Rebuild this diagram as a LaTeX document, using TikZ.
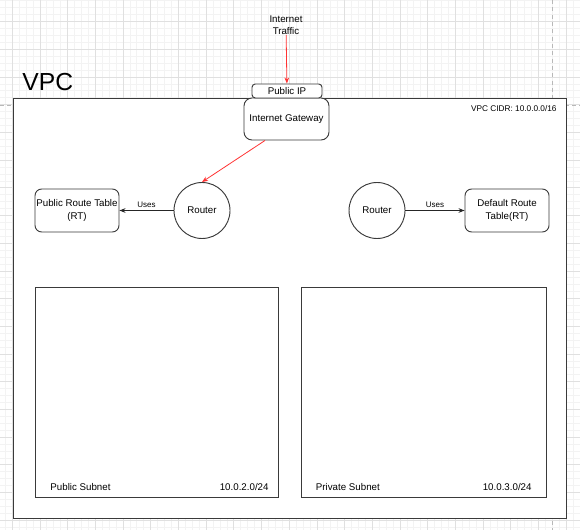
\documentclass[tikz,border=0pt]{standalone}
\usepackage{fontspec}
\setmainfont{Liberation Sans}
\usetikzlibrary{arrows.meta, calc, positioning}

\definecolor{gridmajor}{HTML}{E0E0E0}
\definecolor{gridminor}{HTML}{F3F3F3}
\definecolor{edgegray}{HTML}{3A3A3A}
\definecolor{trafficred}{HTML}{FF3333}

\begin{document}
\begin{tikzpicture}[x=0.75pt, y=-0.75pt, line width=0.7pt,
    txt/.style={font=\fontsize{7.3}{9.2}\selectfont, inner sep=0pt, align=center},
    smalltxt/.style={font=\fontsize{6}{7}\selectfont, inner sep=1pt},
    rtbox/.style={draw=edgegray, fill=white, rounded corners=5pt, minimum width=63pt, minimum height=32.25pt, txt},
    router/.style={circle, draw=edgegray, fill=white, minimum size=42pt, txt},
    subnet/.style={draw=edgegray, fill=white},
    uses/.style={draw=black!85, -{Stealth[length=4.5pt, width=3.5pt]}},
    redflow/.style={draw=trafficred, line width=0.6pt, -{Stealth[length=4.5pt, width=3.5pt]}},
    dashline/.style={draw=black!28, line width=0.6pt, dash pattern=on 3pt off 2.5pt},
  ]
        \useasboundingbox (0,0) rectangle (580,530);
        \fill[white] (0,0) rectangle (580,530);

        % --- BACKGROUND: THE GRID ---
        \foreach \i in {-2,...,83} {
            \draw[gridminor] ({12.3+6.925*\i},0) -- ({12.3+6.925*\i},530);
        }
        \foreach \j in {-3,...,73} {
            \draw[gridminor] (0,{21.7+6.925*\j}) -- (580,{21.7+6.925*\j});
        }
        \foreach \i in {0,...,20} {
            \draw[gridmajor] ({12.3+27.7*\i},0) -- ({12.3+27.7*\i},530);
        }
        \foreach \j in {0,...,18} {
            \draw[gridmajor] (0,{21.7+27.7*\j}) -- (580,{21.7+27.7*\j});
        }

        % page border
        \draw[dashline] (552.7,0) -- (552.7,530);
        \draw[dashline] (0,105) -- (580,105);

        % --- THE VPC ---
        \draw[edgegray, fill=white] (13.3,98.3) rectangle (566.7,518.3);
        \node[font=\fontsize{18.5}{20}\selectfont, anchor=base west, inner sep=0pt] (vpclabel) at (22,91) {VPC};
        \node[font=\fontsize{6.2}{7}\selectfont, anchor=east, inner sep=0pt] (vpccidr) at (557,109) {VPC CIDR: 10.0.0.0/16};

        % Gateway and its public address
        \node[draw=edgegray, fill=white, rounded corners=6pt, minimum width=63.75pt, minimum height=31.5pt, txt] (igw) at (286.5,119) {Internet Gateway};
        \node[draw=edgegray, fill=white, rounded corners=2.5pt, minimum width=52.5pt, minimum height=10.5pt, txt] (pubip) at (287,91) {Public IP};

        \node[txt] (traffic) at (286,25) {Internet\\Traffic};
        \draw[redflow] (traffic) -- (pubip);

        % --- ROUTERS AND ROUTE TABLES ---
        \node[router] (rtrpub) at (202,210.5) {Router};
        \node[router] (rtrpriv) at (377,210.5) {Router};

        \node[rtbox] (pubrt) at (77,210.5) {Public Route Table\\(RT)};
        \node[rtbox] (defrt) at (507,210.5) {Default Route\\Table(RT)};

        \draw[uses] (rtrpub) -- node[above=1pt, smalltxt] {Uses} (pubrt);
        \draw[uses] (rtrpriv) -- node[above=1pt, smalltxt] {Uses} (defrt);

        \draw[redflow] ($(igw.south west)!0.25!(igw.south east)$) -- (rtrpub.north);

        % --- SUBNETS ---
        \draw[subnet] (35,287) rectangle (278.5,497);
        \draw[subnet] (301,287) rectangle (546,497);

        \node[txt, anchor=west] (pubsubname) at (50,487) {Public Subnet};
        \node[txt, anchor=east] (pubsubcidr) at (269,487) {10.0.2.0/24};
        \node[txt, anchor=west] (privsubname) at (315.5,487) {Private Subnet};
        \node[txt, anchor=east] (privsubcidr) at (532,487) {10.0.3.0/24};
    \end{tikzpicture}
\end{document}
